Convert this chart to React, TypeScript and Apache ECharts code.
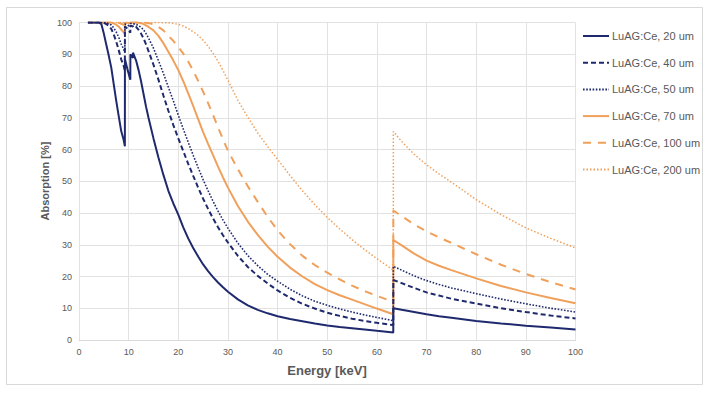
import React, { useEffect, useRef } from "react";
import * as echarts from "echarts";

// Energy grid [keV] (segments: below L3, L-edges, 15-30, 32-63.3, above K-edge)
const energy: number[] = [
  1.8, 3, 4, 4.5, 5, 5.5, 6, 6.5, 7, 7.5, 8, 8.5, 9, 9.24,
  9.25, 9.8, 10.34, 10.35, 10.6, 10.86, 10.87, 11.5, 12, 12.5, 13, 13.5, 14,
  15, 16, 17, 18, 19, 20, 21, 22, 23, 24, 25, 26, 27, 28, 29, 30,
  32, 34, 36, 38, 40, 42.5, 45, 47.5, 50, 52.5, 55, 57.5, 60, 63.3,
  63.31, 65, 67.5, 70, 72.5, 75, 80, 85, 90, 95, 100,
];

const luag20: number[] = [
  100, 100, 100, 99.5, 96.5, 93, 89.5, 85.8, 80.5, 75.3, 70.5, 65.8, 63, 61,
  88.5, 85, 82, 90, 89.5, 88.8, 90.5, 88, 85, 81.5, 77.5, 73.5, 70,
  63.5, 57.5, 52, 47, 43, 39.5, 35.5, 32, 29, 26.3, 23.8, 21.7, 19.8, 18.1, 16.6, 15.2,
  12.8, 10.9, 9.5, 8.4, 7.5, 6.6, 5.9, 5.2, 4.6, 4.1, 3.7, 3.3, 2.9, 2.4,
  10.0, 9.5, 8.8, 8.1, 7.5, 7.0, 6.0, 5.2, 4.5, 3.9, 3.3,
];

const luag40: number[] = [
  100, 100, 100, 100, 99.9, 99.5, 99, 98, 96.2, 94, 91.3, 88.4, 86.3, 84.8,
  98.7, 98, 96.8, 99, 98.9, 98.7, 99.1, 98.6, 97.7, 96.5, 95, 93.1, 91,
  86.7, 82, 77, 72.2, 67.7, 63.5, 59.5, 55.5, 51.7, 48, 44.5, 41.3, 38.3, 35.5, 33, 30.7,
  26.5, 23, 20.2, 17.8, 15.6, 13.3, 11.4, 9.9, 8.6, 7.6, 6.7, 6.0, 5.4, 4.7,
  18.9, 17.9, 16.4, 15.0, 14.0, 13.0, 11.5, 10.0, 8.8, 7.7, 6.8,
];

const luag50: number[] = [
  100, 100, 100, 100, 100, 99.9, 99.6, 99.2, 98.3, 97, 95.4, 93.2, 91.6, 90.5,
  99.5, 99.2, 98.6, 99.7, 99.7, 99.6, 99.7, 99.4, 99, 98.5, 97.7, 96.5, 95.1,
  91.9, 88, 84, 79.6, 75.3, 70.8, 66.5, 62.3, 58.2, 54.3, 50.5, 47, 43.7, 40.6, 37.8, 35.2,
  30.5, 26.6, 23.4, 20.7, 18.5, 16.0, 13.9, 12.2, 10.9, 9.8, 8.8, 7.9, 7.1, 6.1,
  23.2, 22.0, 20.2, 18.7, 17.5, 16.4, 14.6, 12.9, 11.4, 10.0, 8.8,
];

const luag70: number[] = [
  100, 100, 100, 100, 100, 100, 100, 100, 99.7, 99.3, 98.7, 97.8, 96.9, 96.4,
  100, 99.9, 99.7, 100, 100, 100, 100, 100, 99.9, 99.8, 99.5, 99.1, 98.6,
  97.5, 95.8, 93.5, 90.8, 88, 85, 81.5, 77.7, 73.7, 69.6, 65.5, 61.8, 58.2, 54.6, 51.2, 48,
  42.2, 37.3, 33.1, 29.4, 26.2, 22.8, 20.0, 17.6, 15.7, 14.1, 12.7, 11.3, 9.9, 8.1,
  31.5, 29.8, 27.2, 25.0, 23.4, 22.0, 19.4, 17.0, 15.0, 13.2, 11.6,
];

const luag100: number[] = [
  100, 100, 100, 100, 100, 100, 100, 100, 100, 100, 99.9, 99.6, 99.3, 99.1,
  100, 100, 100, 100, 100, 100, 100, 100, 100, 100, 99.95, 99.9, 99.8,
  99.4, 98.6, 97.5, 95.8, 94.2, 92.3, 90.2, 87.7, 84.8, 81.6, 78.2, 74.6, 70.9, 67.0, 63.2, 59.6,
  53.8, 48.4, 43.5, 38.8, 34.5, 30.2, 26.5, 23.6, 21.2, 19.1, 17.1, 15.4, 13.9, 12.0,
  40.8, 39.0, 36.4, 34.2, 32.3, 30.6, 27.0, 23.7, 20.8, 18.2, 15.9,
];

const luag200: number[] = [
  100, 100, 100, 100, 100, 100, 100, 100, 100, 100, 100, 100, 100, 100,
  100, 100, 100, 100, 100, 100, 100, 100, 100, 100, 100, 100, 100,
  100, 100, 99.95, 99.9, 99.7, 99.4, 98.9, 98.1, 97.1, 95.9, 94.4, 92.5, 90.3, 87.8, 84.9, 81.8,
  75.5, 70.2, 65.2, 60.9, 56.9, 51.8, 47.0, 42.6, 38.6, 35.0, 31.6, 28.5, 25.6, 22.0,
  65.7, 62.5, 58.5, 55.2, 52.3, 49.7, 44.2, 39.5, 35.3, 32.0, 29.0,
];

const seriesNames: string[] = [
  "LuAG:Ce, 20 um",
  "LuAG:Ce, 40 um",
  "LuAG:Ce, 50 um",
  "LuAG:Ce, 70 um",
  "LuAG:Ce, 100 um",
  "LuAG:Ce, 200 um",
];
const seriesValues: number[][] = [luag20, luag40, luag50, luag70, luag100, luag200];

const NAVY = "#1F2A6E";
const ORANGE = "#F0A05A";
const styles = [
  { color: NAVY, width: 2, type: "solid" as any },
  { color: NAVY, width: 2, type: [5, 3] as any },
  { color: NAVY, width: 1.6, type: [1.6, 1.6] as any },
  { color: ORANGE, width: 2, type: "solid" as any },
  { color: ORANGE, width: 2, type: [8, 7] as any },
  { color: ORANGE, width: 1.5, type: [1.5, 2] as any },
];

const FONT = "'Liberation Sans', Arial, sans-serif";

export default function App() {
  const ref = useRef<HTMLDivElement>(null);
  useEffect(() => {
    if (!ref.current) return;
    const chart = echarts.init(ref.current, undefined, { renderer: "svg" });
    const series = seriesNames.map((name, k) => ({
      name,
      type: "line",
      data: energy.map((e, i) => [e, seriesValues[k][i]]),
      showSymbol: false,
      symbol: "none",
      smooth: false,
      lineStyle: styles[k],
      itemStyle: { color: styles[k].color },
      z: 10 - k,
    }));
    chart.setOption({
      animation: false,
      backgroundColor: "#ffffff",
      grid: { left: 79, right: 134.5, top: 22.5, bottom: 53 },
      xAxis: {
        type: "value",
        min: 0,
        max: 100,
        interval: 10,
        axisLine: { show: true, lineStyle: { color: "#D9D9D9", width: 1 } },
        axisTick: { show: false },
        axisLabel: { color: "#595959", fontSize: 9, margin: 7, fontFamily: FONT },
        splitLine: { show: true, lineStyle: { color: "#E2E2E2", width: 1 } },
      },
      yAxis: {
        type: "value",
        min: 0,
        max: 100,
        interval: 10,
        axisLine: { show: true, lineStyle: { color: "#E2E2E2", width: 1 } },
        axisTick: { show: false },
        axisLabel: { color: "#595959", fontSize: 9, margin: 7, fontFamily: FONT },
        splitLine: { show: true, lineStyle: { color: "#E2E2E2", width: 1 } },
      },
      legend: {
        orient: "vertical",
        left: 582,
        top: 29,
        padding: 0,
        itemWidth: 26,
        itemHeight: 14,
        itemGap: 12.7,
        itemStyle: { opacity: 0 },
        data: seriesNames,
        textStyle: { color: "#595959", fontSize: 11, fontFamily: FONT, lineHeight: 14, padding: [0, 0, 0, -2] },
      },
      graphic: [
        {
          type: "rect",
          shape: { x: 6.5, y: 7.5, width: 696, height: 377 },
          style: { fill: "none", stroke: "#D9D9D9", lineWidth: 1 },
          silent: true,
        },
        {
          type: "text",
          x: 327,
          y: 370,
          style: {
            text: "Energy [keV]",
            fill: "#595959",
            font: `bold 13px ${FONT}`,
            textAlign: "center",
            textVerticalAlign: "middle",
          },
        },
        {
          type: "text",
          x: 45,
          y: 181,
          rotation: Math.PI / 2,
          style: {
            text: "Absorption [%]",
            fill: "#595959",
            font: `bold 11px ${FONT}`,
            textAlign: "center",
            textVerticalAlign: "middle",
          },
        },
      ],
      series,
    });
    return () => chart.dispose();
  }, []);
  return (
    <div
      ref={ref}
      style={{ position: "absolute", left: 0, top: 0, width: 710, height: 393, background: "#fff" }}
    />
  );
}
